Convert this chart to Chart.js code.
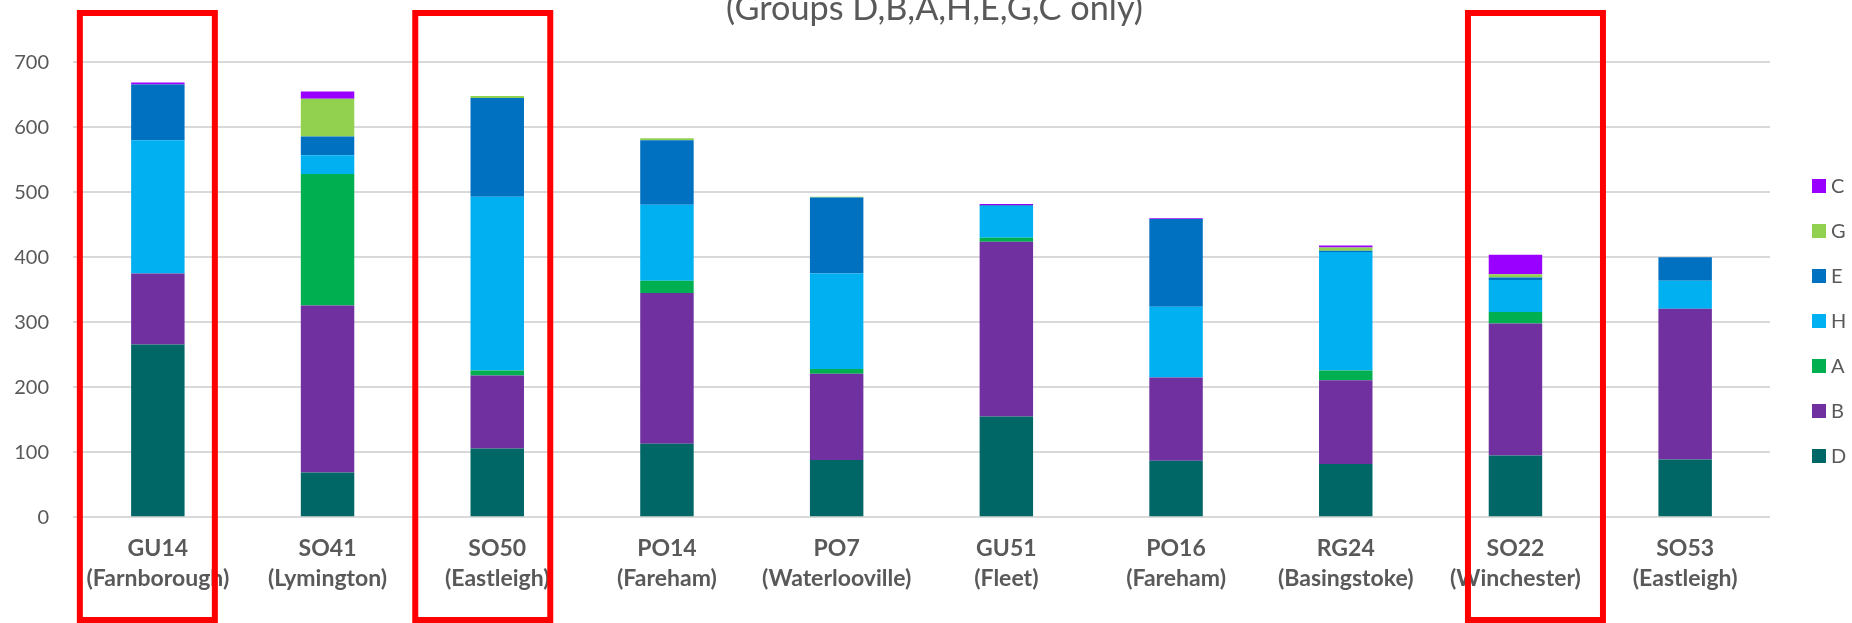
<!DOCTYPE html>
<html>
<head>
<meta charset="utf-8">
<script src="https://cdn.jsdelivr.net/npm/chart.js@4.4.1/dist/chart.umd.min.js"></script>
<style>
  html, body { margin: 0; padding: 0; background: #ffffff; }
  #wrap { width: 1852px; height: 623px; position: relative; }
</style>
</head>
<body>
<div id="wrap"><canvas id="chart" width="1852" height="623"></canvas></div>
<script>
// Postcode districts (two-line axis labels)
const categories = [
  ['GU14', '(Farnborough)'],
  ['SO41', '(Lymington)'],
  ['SO50', '(Eastleigh)'],
  ['PO14', '(Fareham)'],
  ['PO7', '(Waterlooville)'],
  ['GU51', '(Fleet)'],
  ['PO16', '(Fareham)'],
  ['RG24', '(Basingstoke)'],
  ['SO22', '(Winchester)'],
  ['SO53', '(Eastleigh)']
];

// Counts per group, stacked bottom to top in this order
const groupD = [266, 69, 106, 113, 88, 155, 87, 82, 95, 89];
const groupB = [109, 257, 112, 232, 133, 269, 128, 129, 203, 232];
const groupA = [0, 202, 8, 19, 7, 6, 0, 15, 18, 0];
const groupH = [205, 29, 267, 117, 147, 49, 109, 182, 49, 43];
const groupE = [86, 29, 152, 99, 117, 1, 135, 2, 4, 36];
const groupG = [0, 58, 3, 3, 1, 0, 0, 5, 5, 0];
const groupC = [3, 11, 0, 0, 0, 2, 1, 3, 30, 0];

const groupNames = ['D', 'B', 'A', 'H', 'E', 'G', 'C'];
const yTickValues = [0, 100, 200, 300, 400, 500, 600, 700];
const titleText = '(Groups D,B,A,H,E,G,C only)';

// Districts outlined in red
const highlightedDistricts = ['GU14', 'SO50', 'SO22'];

// ---- styling ----
const TEXT_GREY = '#595959';
const GRID_GREY = '#d9d9d9';
const groupColours = {
  D: '#006666',
  B: '#7030A0',
  A: '#00B050',
  H: '#00B0F0',
  E: '#0070C0',
  G: '#92D050',
  C: '#9900FF'
};
const highlightStyle = {
  offsets: { GU14: -10.5, SO50: -14.5, SO22: 20 },
  width: 135,
  top: 13,
  bottom: 620,
  lineWidth: 6,
  colour: '#FF0000'
};
const titleStyle = { centreX: 934.5, baseline: 20, width: 417 };

const seriesValues = [groupD, groupB, groupA, groupH, groupE, groupG, groupC];

const datasets = groupNames.map((name, i) => ({
  label: name,
  data: seriesValues[i],
  backgroundColor: groupColours[name],
  borderWidth: 0,
  categoryPercentage: 1.0,
  barPercentage: 0.315
}));

// Title line (second line of the title; the line above sits outside the canvas)
const titlePlugin = {
  id: 'titleLine',
  afterDraw(chart) {
    const ctx = chart.ctx;
    ctx.save();
    ctx.font = '28px Lato';
    const w28 = ctx.measureText(titleText).width;
    const size = 28 * titleStyle.width / w28;
    ctx.font = size.toFixed(2) + 'px Lato';
    ctx.fillStyle = TEXT_GREY;
    ctx.textAlign = 'center';
    ctx.textBaseline = 'alphabetic';
    ctx.fillText(titleText, titleStyle.centreX, titleStyle.baseline);
    ctx.restore();
  }
};

// Legend on the right, top entry = top of the stack
const sideLegend = {
  id: 'sideLegend',
  afterDraw(chart) {
    const ctx = chart.ctx;
    const items = chart.data.datasets.map((d) => d).reverse();
    const boxX = 1812, box = 14, firstY = 186, step = 45;
    ctx.save();
    ctx.font = '20px Lato';
    ctx.textBaseline = 'middle';
    ctx.textAlign = 'left';
    items.forEach((ds, k) => {
      const cy = firstY + k * step;
      ctx.fillStyle = ds.backgroundColor;
      ctx.fillRect(boxX, cy - box / 2, box, box);
      ctx.fillStyle = TEXT_GREY;
      ctx.fillText(ds.label, boxX + box + 5, cy + 1);
    });
    ctx.restore();
  }
};

// Red outline round selected districts
const highlightBoxes = {
  id: 'highlightBoxes',
  afterDraw(chart) {
    const ctx = chart.ctx;
    const xScale = chart.scales.x;
    ctx.save();
    ctx.strokeStyle = highlightStyle.colour;
    ctx.lineWidth = highlightStyle.lineWidth;
    categories.forEach((cat, i) => {
      const code = cat[0];
      if (!highlightedDistricts.includes(code)) return;
      const cx = xScale.getPixelForValue(i) + highlightStyle.offsets[code];
      const w = highlightStyle.width;
      ctx.strokeRect(cx - w / 2, highlightStyle.top, w, highlightStyle.bottom - highlightStyle.top);
    });
    ctx.restore();
  }
};

function draw() {
  new Chart(document.getElementById('chart'), {
    type: 'bar',
    data: { labels: categories, datasets },
    options: {
      responsive: false,
      animation: false,
      devicePixelRatio: 1,
      layout: { padding: { top: 62.3, right: 82, left: 0, bottom: 0 } },
      plugins: {
        legend: { display: false },
        title: { display: false },
        tooltip: { enabled: false }
      },
      scales: {
        x: {
          stacked: true,
          grid: { display: false, drawTicks: false },
          border: { display: false },
          ticks: {
            color: TEXT_GREY,
            font: { family: 'Lato', size: 23, weight: 'bold', lineHeight: 1.3 },
            padding: 16.7,
            maxRotation: 0,
            autoSkip: false
          },
          afterFit(scale) { scale.height = 105.7; }
        },
        y: {
          stacked: true,
          min: 0,
          max: 700,
          afterBuildTicks(scale) { scale.ticks = yTickValues.map(v => ({ value: v })); },
          grid: { color: GRID_GREY, lineWidth: 2, drawTicks: false },
          border: { display: false },
          ticks: {
            color: TEXT_GREY,
            font: { family: 'Lato', size: 20 },
            padding: 24
          },
          afterFit(scale) { scale.width = 73; }
        }
      }
    },
    plugins: [titlePlugin, sideLegend, highlightBoxes]
  });
}

if (document.fonts && document.fonts.load) {
  Promise.all([
    document.fonts.load('28px Lato'),
    document.fonts.load('bold 23px Lato'),
    document.fonts.load('20px Lato')
  ]).then(draw, draw);
} else {
  draw();
}
</script>
</body>
</html>
